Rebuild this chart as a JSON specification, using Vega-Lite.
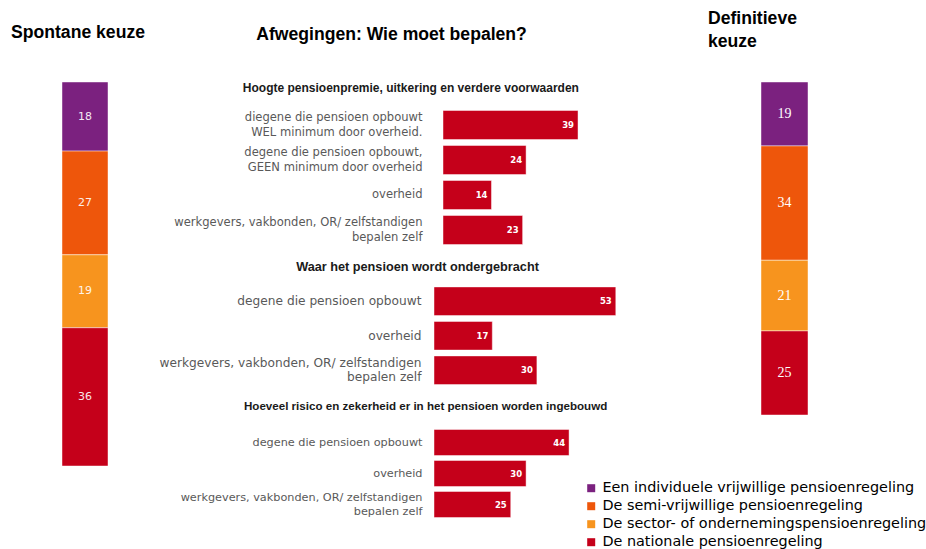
{
  "$schema": "https://vega.github.io/schema/vega-lite/v6.json",
  "background": "white",
  "padding": {"left": 11, "top": 9, "right": 5, "bottom": 5},
  "spacing": 14,
  "bounds": "full",
  "align": "none",
  "resolve": {"scale": {"color": "shared"}, "legend": {"color": "shared"}},
  "config": {"view": {"stroke": null}, "font": "Liberation Sans"},
  "hconcat": [
    {
      "width": 46,
      "height": 384,
      "title": {"text": "Spontane keuze", "font": "Liberation Sans", "fontSize": 17.6, "fontWeight": "bold", "color": "#000000", "anchor": "middle", "frame": "group", "dx": -7, "offset": 40},
      "data": {"values": [
        {"panel": "Spontane keuze", "cat": "Een individuele vrijwillige pensioenregeling", "value": 18, "order": 4},
        {"panel": "Spontane keuze", "cat": "De semi-vrijwillige pensioenregeling", "value": 27, "order": 3},
        {"panel": "Spontane keuze", "cat": "De sector- of ondernemingspensioenregeling", "value": 19, "order": 2},
        {"panel": "Spontane keuze", "cat": "De nationale pensioenregeling", "value": 36, "order": 1}
      ]},
      "transform": [
        {"stack": "value", "groupby": ["panel"], "sort": [{"field": "order", "order": "ascending"}], "as": ["v0", "v1"]},
        {"calculate": "(datum.v0 + datum.v1) / 2", "as": "mid"}
      ],
      "encoding": {"x": {"field": "panel", "type": "nominal", "axis": null, "scale": {"paddingInner": 0, "paddingOuter": 0}}},
      "layer": [
        {
          "mark": {"type": "bar", "stroke": "#ffffff", "strokeWidth": 1, "strokeOpacity": 0.45},
          "encoding": {
            "y": {"field": "v0", "type": "quantitative", "axis": null, "scale": {"domain": [0, 100], "nice": false}},
            "y2": {"field": "v1"},
            "color": {"field": "cat", "type": "nominal",
              "scale": {"domain": ["Een individuele vrijwillige pensioenregeling", "De semi-vrijwillige pensioenregeling", "De sector- of ondernemingspensioenregeling", "De nationale pensioenregeling"], "range": ["#7B217F", "#EE560B", "#F7941E", "#C5001A"]},
              "legend": {"orient": "none", "legendX": 522, "legendY": 399, "title": null, "labelFont": "DejaVu Sans", "labelFontSize": 14.4, "labelColor": "#000000", "symbolType": "square", "symbolSize": 64, "symbolStrokeWidth": 0, "rowPadding": 3, "labelOffset": 4, "labelLimit": 400}}
          }
        },
        {
          "mark": {"type": "text", "font": "DejaVu Sans", "fontSize": 11, "color": "#ffffff", "opacity": 0.9},
          "encoding": {
            "y": {"field": "mid", "type": "quantitative"},
            "text": {"field": "value", "type": "quantitative"}
          }
        }
      ]
    },
    {
      "title": {"text": "Afwegingen: Wie moet bepalen?", "font": "Liberation Sans", "fontSize": 17.6, "fontWeight": "bold", "color": "#000000", "anchor": "middle", "frame": "bounds", "dx": -35, "offset": 38},
      "spacing": 13,
      "bounds": "full",
      "align": "each",
      "vconcat": [
        {
          "width": 260,
          "height": 165.5,
          "title": {"text": "Hoogte pensioenpremie, uitkering en verdere voorwaarden", "font": "Liberation Sans", "fontSize": 12, "fontWeight": "bold", "color": "#1a1a1a", "anchor": "middle", "frame": "bounds", "dx": -23, "offset": -13},
          "data": {"values": [
            {"label": "diegene die pensioen opbouwt|WEL minimum door overheid.", "value": 39},
            {"label": "degene die pensioen opbouwt,|GEEN minimum door overheid", "value": 24},
            {"label": "overheid", "value": 14},
            {"label": "werkgevers, vakbonden, OR/ zelfstandigen|bepalen zelf", "value": 23}
          ]},
          "encoding": {
            "y": {"field": "label", "type": "nominal", "sort": null, "scale": {"paddingInner": 0.17, "paddingOuter": 0.4493, "align": 0.906},
              "axis": {"title": null, "domain": false, "ticks": false, "labelExpr": "split(datum.value, '|')", "labelFont": "DejaVu Sans", "labelFontSize": 11.55, "labelColor": "#595959", "labelPadding": 12, "labelLimit": 400, "labelLineHeight": 15,
                "labelOffset": {"condition": {"test": "indexof(datum.value, '|') >= 0", "value": -7}, "value": 0}}},
            "x": {"field": "value", "type": "quantitative", "axis": null, "scale": {"domain": [-2.6, 72.5], "nice": false, "zero": false}}
          },
          "layer": [
            {"mark": {"type": "bar", "color": "#C5001A", "stroke": "#ffffff", "strokeWidth": 1, "strokeOpacity": 0.45}},
            {"mark": {"type": "text", "align": "right", "dx": -4, "font": "DejaVu Sans", "fontWeight": "bold", "fontSize": 8.5, "color": "#ffffff"},
             "encoding": {"text": {"field": "value", "type": "quantitative"}}}
          ]
        },
        {
          "width": 260,
          "height": 103.5,
          "title": {"text": "Waar het pensioen wordt ondergebracht", "font": "Liberation Sans", "fontSize": 12.7, "fontWeight": "bold", "color": "#1a1a1a", "anchor": "middle", "frame": "bounds", "dx": -9, "offset": 10},
          "data": {"values": [
            {"label": "degene die pensioen opbouwt", "value": 53},
            {"label": "overheid", "value": 17},
            {"label": "werkgevers, vakbonden, OR/ zelfstandigen|bepalen zelf", "value": 30}
          ]},
          "encoding": {
            "y": {"field": "label", "type": "nominal", "sort": null, "scale": {"paddingInner": 0.17, "paddingOuter": 0.085},
              "axis": {"title": null, "domain": false, "ticks": false, "labelExpr": "split(datum.value, '|')", "labelFont": "DejaVu Sans", "labelFontSize": 12.2, "labelColor": "#595959", "labelPadding": 13, "labelLimit": 400, "labelLineHeight": 14,
                "labelOffset": {"condition": {"test": "indexof(datum.value, '|') >= 0", "value": -7}, "value": 0}}},
            "x": {"field": "value", "type": "quantitative", "axis": null, "scale": {"domain": [0, 75.8], "nice": false}}
          },
          "layer": [
            {"mark": {"type": "bar", "color": "#C5001A", "stroke": "#ffffff", "strokeWidth": 1, "strokeOpacity": 0.45}},
            {"mark": {"type": "text", "align": "right", "dx": -4, "font": "DejaVu Sans", "fontWeight": "bold", "fontSize": 8.5, "color": "#ffffff"},
             "encoding": {"text": {"field": "value", "type": "quantitative"}}}
          ]
        },
        {
          "width": 260,
          "height": 93,
          "title": {"text": "Hoeveel risico en zekerheid er in het pensioen worden ingebouwd", "font": "Liberation Sans", "fontSize": 11.6, "fontWeight": "bold", "color": "#1a1a1a", "anchor": "middle", "frame": "bounds", "dx": -11.5, "offset": 14},
          "data": {"values": [
            {"label": "degene die pensioen opbouwt", "value": 44},
            {"label": "overheid", "value": 30},
            {"label": "werkgevers, vakbonden, OR/ zelfstandigen|bepalen zelf", "value": 25}
          ]},
          "encoding": {
            "y": {"field": "label", "type": "nominal", "sort": null, "scale": {"paddingInner": 0.16, "paddingOuter": 0.08},
              "axis": {"title": null, "domain": false, "ticks": false, "labelExpr": "split(datum.value, '|')", "labelFont": "DejaVu Sans", "labelFontSize": 11.25, "labelColor": "#595959", "labelPadding": 12, "labelLimit": 400, "labelLineHeight": 14,
                "labelOffset": {"condition": {"test": "indexof(datum.value, '|') >= 0", "value": -7}, "value": 0}}},
            "x": {"field": "value", "type": "quantitative", "axis": null, "scale": {"domain": [0, 84.7], "nice": false}}
          },
          "layer": [
            {"mark": {"type": "bar", "color": "#C5001A", "stroke": "#ffffff", "strokeWidth": 1, "strokeOpacity": 0.45}},
            {"mark": {"type": "text", "align": "right", "dx": -4, "font": "DejaVu Sans", "fontWeight": "bold", "fontSize": 8.5, "color": "#ffffff"},
             "encoding": {"text": {"field": "value", "type": "quantitative"}}}
          ]
        }
      ]
    },
    {
      "width": 47,
      "height": 333,
      "title": {"text": ["Definitieve", "keuze"], "font": "Liberation Sans", "fontSize": 17.6, "fontWeight": "bold", "color": "#000000", "anchor": "start", "frame": "group", "dx": -53, "offset": 31, "lineHeight": 23},
      "data": {"values": [
        {"panel": "Definitieve keuze", "cat": "Een individuele vrijwillige pensioenregeling", "value": 19, "order": 4},
        {"panel": "Definitieve keuze", "cat": "De semi-vrijwillige pensioenregeling", "value": 34, "order": 3},
        {"panel": "Definitieve keuze", "cat": "De sector- of ondernemingspensioenregeling", "value": 21, "order": 2},
        {"panel": "Definitieve keuze", "cat": "De nationale pensioenregeling", "value": 25, "order": 1}
      ]},
      "transform": [
        {"stack": "value", "groupby": ["panel"], "sort": [{"field": "order", "order": "ascending"}], "as": ["v0", "v1"]},
        {"calculate": "(datum.v0 + datum.v1) / 2", "as": "mid"}
      ],
      "encoding": {"x": {"field": "panel", "type": "nominal", "axis": null, "scale": {"paddingInner": 0, "paddingOuter": 0}}},
      "layer": [
        {
          "mark": {"type": "bar", "stroke": "#ffffff", "strokeWidth": 1, "strokeOpacity": 0.45},
          "encoding": {
            "y": {"field": "v0", "type": "quantitative", "axis": null, "scale": {"domain": [0, 99], "nice": false}},
            "y2": {"field": "v1"},
            "color": {"field": "cat", "type": "nominal",
              "scale": {"domain": ["Een individuele vrijwillige pensioenregeling", "De semi-vrijwillige pensioenregeling", "De sector- of ondernemingspensioenregeling", "De nationale pensioenregeling"], "range": ["#7B217F", "#EE560B", "#F7941E", "#C5001A"]}}
          }
        },
        {
          "mark": {"type": "text", "font": "Liberation Serif", "fontSize": 14, "color": "#ffffff"},
          "encoding": {
            "y": {"field": "mid", "type": "quantitative"},
            "text": {"field": "value", "type": "quantitative"}
          }
        }
      ]
    }
  ]
}
